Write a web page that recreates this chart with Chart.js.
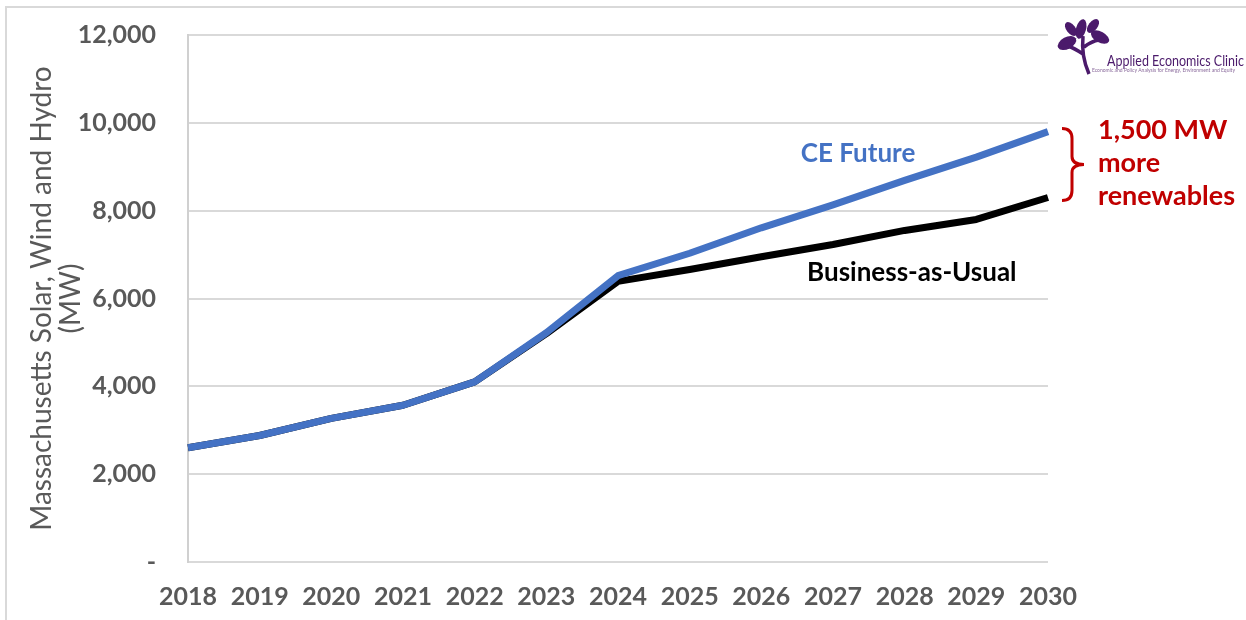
<!DOCTYPE html>
<html>
<head>
<meta charset="utf-8">
<script src="https://cdn.jsdelivr.net/npm/chart.js@4/dist/chart.umd.min.js"></script>
<style>
  body { margin: 0; background: #fff; }
  canvas { display: block; }
</style>
</head>
<body>
<canvas id="lineChart" width="1246" height="620"></canvas>
<script>
// installed capacity, MW
let years = ['2018','2019','2020','2021','2022','2023','2024','2025','2026','2027','2028','2029','2030']
let ce_future = [2600, 2880, 3270, 3570, 4100, 5220, 6520, 7030, 7610, 8130, 8690, 9220, 9800]
let business_as_usual = [2600, 2880, 3270, 3570, 4100, 5200, 6390, 6660, 6950, 7230, 7550, 7800, 8300]

let yTicks = [0, 2000, 4000, 6000, 8000, 10000, 12000]
let axisTitle = ['Massachusetts Solar, Wind and Hydro', '(MW)']
let gap = ce_future[12] - business_as_usual[12]
let gapLabel = [gap.toLocaleString('en-US') + ' MW', 'more', 'renewables']

let grey = '#595959'
let blue = '#4472c4'
let red = '#c00000'
let purple = '#4b1a6b'

// text labels, brace, logo and the frame
let extras = {
  id: 'extras',
  afterDraw(chart) {
    let ctx = chart.ctx
    let xs = chart.scales.x, ys = chart.scales.y
    let area = chart.chartArea
    ctx.save()

    // frame
    ctx.strokeStyle = '#d9d9d9'
    ctx.lineWidth = 2
    ctx.beginPath()
    ctx.moveTo(1246, 7)
    ctx.lineTo(6, 7)
    ctx.lineTo(6, 620)
    ctx.stroke()

    // series labels
    ctx.font = 'bold 26px Lato'
    ctx.textAlign = 'center'
    ctx.textBaseline = 'middle'
    ctx.fillStyle = blue
    ctx.fillText('CE Future', xs.getPixelForValue(9.35), ys.getPixelForValue(9300))
    ctx.fillStyle = '#000'
    ctx.fillText('Business-as-Usual', xs.getPixelForValue(10.1), ys.getPixelForValue(6600))

    // brace between the two 2030 values
    let yTop = ys.getPixelForValue(ce_future[12]) - 3
    let yBot = ys.getPixelForValue(business_as_usual[12]) + 3
    let yMid = (yTop + yBot) / 2
    let bx = area.right + 14
    ctx.strokeStyle = red
    ctx.lineWidth = 3
    ctx.beginPath()
    ctx.moveTo(bx, yTop)
    ctx.quadraticCurveTo(bx + 10, yTop, bx + 10, yTop + 10)
    ctx.lineTo(bx + 10, yMid - 8)
    ctx.quadraticCurveTo(bx + 10, yMid, bx + 22, yMid)
    ctx.quadraticCurveTo(bx + 10, yMid, bx + 10, yMid + 8)
    ctx.lineTo(bx + 10, yBot - 10)
    ctx.quadraticCurveTo(bx + 10, yBot, bx, yBot)
    ctx.stroke()

    ctx.fillStyle = red
    ctx.textAlign = 'left'
    ctx.font = 'bold 27px Lato'
    gapLabel.forEach((t, i) => ctx.fillText(t, area.right + 50, yMid - 34 + i * 33))

    // logo
    ctx.fillStyle = purple
    ctx.strokeStyle = purple
    ctx.lineWidth = 3.5
    ctx.beginPath()
    ctx.moveTo(1089, 74)
    ctx.quadraticCurveTo(1081, 56, 1083, 36)
    ctx.moveTo(1083, 54)
    ctx.quadraticCurveTo(1074, 48, 1068, 46)
    ctx.moveTo(1084, 47)
    ctx.quadraticCurveTo(1092, 41, 1099, 40)
    ctx.stroke()
    let leaves = [[1067, 43, 10, 6, -0.5], [1100, 37, 10, 5.5, 0.5], [1081, 29, 10, 5, -1.3],
                  [1093, 26, 8, 4.5, -0.9], [1071, 29, 8, 4.5, 0.9]]
    leaves.forEach(l => {
      ctx.beginPath()
      ctx.ellipse(l[0], l[1], l[2], l[3], l[4], 0, Math.PI * 2)
      ctx.fill()
    })
    ctx.font = '15px Lato'
    ctx.textBaseline = 'alphabetic'
    ctx.fillText('Applied Economics Clinic', 1107, 66, 137)
    ctx.font = '5px Lato'
    ctx.fillStyle = '#8a6a9c'
    ctx.fillText('Economic and Policy Analysis for Energy, Environment and Equity', 1092, 72, 152)

    ctx.restore()
  }
}

let ctx = document.getElementById('lineChart').getContext('2d')
let myChart = new Chart(ctx, {
  type: 'line',
  data: {
    labels: years,
    datasets: [{
      label: 'CE Future',
      data: ce_future,
      borderColor: blue,
      backgroundColor: blue,
      borderWidth: 7,
      pointRadius: 0,
      borderJoinStyle: 'round'
    },
    {
      label: 'Business-as-Usual',
      data: business_as_usual,
      borderColor: '#000',
      backgroundColor: '#000',
      borderWidth: 7,
      pointRadius: 0,
      borderJoinStyle: 'round'
    }]
  },
  options: {
    responsive: false,
    animation: false,
    layout: { padding: { top: 35, right: 198, left: 0, bottom: 0 } },
    plugins: {
      legend: { display: false },
      tooltip: { enabled: false }
    },
    scales: {
      x: {
        offset: false,
        grid: { display: false, drawTicks: false },
        border: { display: false },
        ticks: { color: grey, font: { family: 'Lato', size: 25, weight: 'bold' }, padding: 20, maxRotation: 0 },
        afterFit(scale) { scale.height = 58 }
      },
      y: {
        min: 0,
        max: 12000,
        afterBuildTicks(scale) { scale.ticks = yTicks.map(v => ({ value: v })) },
        grid: { color: '#d9d9d9', lineWidth: 2, drawTicks: false },
        border: { display: true, color: '#d0d0d0', width: 2 },
        ticks: {
          color: grey,
          font: { family: 'Lato', size: 25, weight: 'bold' },
          padding: 32,
          callback: v => v === 0 ? '-' : v.toLocaleString('en-US')
        },
        title: {
          display: true,
          text: axisTitle,
          color: grey,
          font: { family: 'Lato', size: 28, lineHeight: 1.05 },
          padding: { top: 27 }
        },
        afterFit(scale) {
          scale.width = 188
          // tick padding shouldn't push the plot down
          scale.paddingTop = 0
          scale.paddingBottom = 0
        }
      }
    }
  },
  plugins: [extras]
})
</script>
</body>
</html>
